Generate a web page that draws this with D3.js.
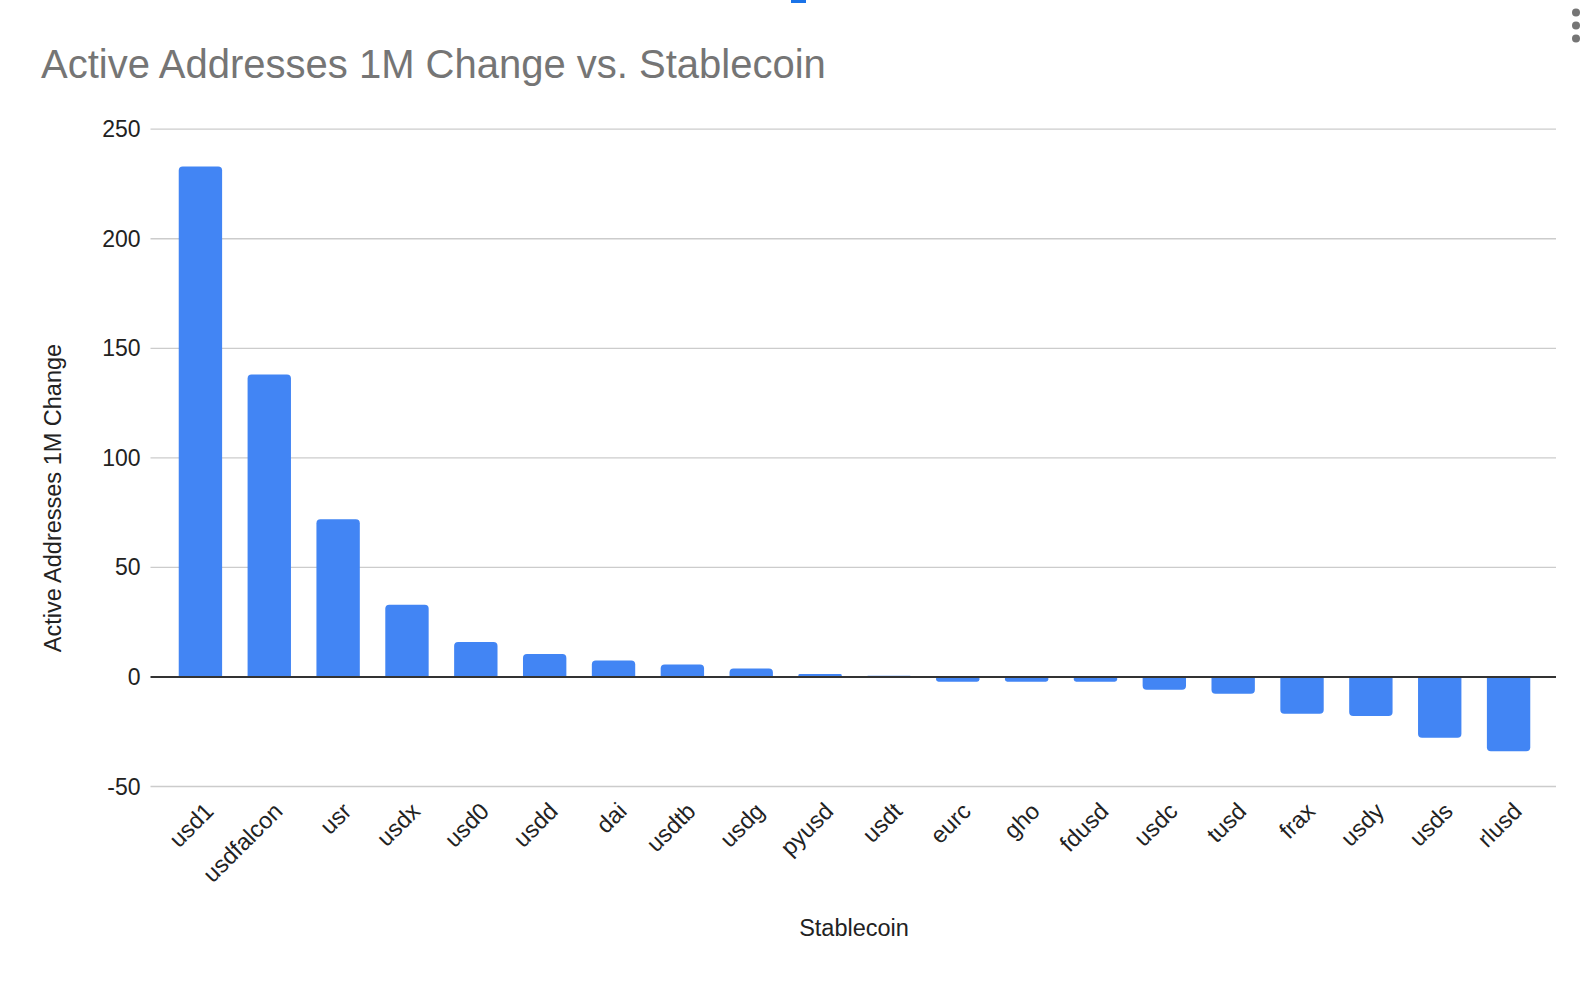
<!DOCTYPE html>
<meta charset="utf-8">
<script src="https://d3js.org/d3.v7.min.js"></script>
<style>
  body { margin: 0; background: #fff; }
  text { font-family: Arial, "Liberation Sans", sans-serif; }
</style>
<div id="my_dataviz"></div>
<script>

// data
var coins = ["usd1", "usdfalcon", "usr", "usdx", "usd0", "usdd", "dai", "usdtb", "usdg", "pyusd",
             "usdt", "eurc", "gho", "fdusd", "usdc", "tusd", "frax", "usdy", "usds", "rlusd"];
var change = [233, 138, 72, 33, 16, 10.5, 7.5, 5.7, 3.9, 1.3,
              0.5, -2.2, -2.2, -2.2, -5.8, -7.7, -16.8, -17.8, -27.7, -33.9];
var yTicks = [-50, 0, 50, 100, 150, 200, 250];

var width = 1594, height = 982;

var svg = d3.select("#my_dataviz")
    .append("svg")
    .attr("width", width)
    .attr("height", height);

var x = d3.scaleBand()
    .domain(coins)
    .range([166, 1543])
    .paddingInner(0.37)
    .paddingOuter(0.185);

var y = d3.scaleLinear()
    .domain([-50, 250])
    .range([786.5, 129.2]);

var gridLeft = 150.5, gridRight = 1556;

// title
svg.append("text")
    .attr("x", 41)
    .attr("y", 78)
    .attr("fill", "#757575")
    .style("font-size", "40px")
    .text("Active Addresses 1M Change vs. Stablecoin");

// gridlines
svg.append("g")
    .selectAll("line")
    .data(yTicks.filter(function(d) { return d !== 0; }))
    .enter().append("line")
    .attr("x1", gridLeft)
    .attr("x2", gridRight)
    .attr("y1", function(d) { return y(d); })
    .attr("y2", function(d) { return y(d); })
    .attr("stroke", "#cccccc")
    .attr("stroke-width", 1.3);

// y tick labels
svg.append("g")
    .selectAll("text")
    .data(yTicks)
    .enter().append("text")
    .attr("x", 140.5)
    .attr("y", function(d) { return y(d); })
    .attr("dy", "0.35em")
    .attr("text-anchor", "end")
    .attr("fill", "#222")
    .style("font-size", "23px")
    .text(function(d) { return d; });

// bars with rounded far end
function barPath(d, i) {
    var x0 = x(coins[i]), w = x.bandwidth();
    var y0 = y(0), y1 = y(d);
    var h = Math.abs(y1 - y0);
    var r = Math.min(4, h / 2, w / 2);
    if (d >= 0) {
        return "M" + x0 + "," + y0 +
            "V" + (y1 + r) + "Q" + x0 + "," + y1 + " " + (x0 + r) + "," + y1 +
            "H" + (x0 + w - r) + "Q" + (x0 + w) + "," + y1 + " " + (x0 + w) + "," + (y1 + r) +
            "V" + y0 + "Z";
    }
    return "M" + x0 + "," + y0 +
        "V" + (y1 - r) + "Q" + x0 + "," + y1 + " " + (x0 + r) + "," + y1 +
        "H" + (x0 + w - r) + "Q" + (x0 + w) + "," + y1 + " " + (x0 + w) + "," + (y1 - r) +
        "V" + y0 + "Z";
}

svg.append("g")
    .selectAll("path")
    .data(change)
    .enter().append("path")
    .attr("d", barPath)
    .attr("fill", "#4285f4");

// zero line
svg.append("line")
    .attr("x1", gridLeft)
    .attr("x2", gridRight)
    .attr("y1", y(0))
    .attr("y2", y(0))
    .attr("stroke", "#333")
    .attr("stroke-width", 2);

// x labels, rotated
svg.append("g")
    .selectAll("text")
    .data(coins)
    .enter().append("text")
    .attr("transform", function(d) {
        return "translate(" + (x(d) + x.bandwidth() / 2 + 3) + ",801) rotate(-45)";
    })
    .attr("text-anchor", "end")
    .attr("dy", "0.7em")
    .attr("fill", "#222")
    .style("font-size", "23.5px")
    .text(function(d) { return d; });

// axis titles
svg.append("text")
    .attr("x", 854)
    .attr("y", 936)
    .attr("text-anchor", "middle")
    .attr("fill", "#222")
    .style("font-size", "23.5px")
    .text("Stablecoin");

svg.append("text")
    .attr("transform", "translate(61,498) rotate(-90)")
    .attr("text-anchor", "middle")
    .attr("fill", "#222")
    .style("font-size", "23.5px")
    .text("Active Addresses 1M Change");

// menu dots and small mark at top
svg.append("g")
    .selectAll("circle")
    .data([12.5, 25.5, 38.5])
    .enter().append("circle")
    .attr("cx", 1576)
    .attr("cy", function(d) { return d; })
    .attr("r", 4)
    .attr("fill", "#757575");

svg.append("rect")
    .attr("x", 791)
    .attr("y", 0)
    .attr("width", 15)
    .attr("height", 3)
    .attr("fill", "#1a73e8");
</script>
